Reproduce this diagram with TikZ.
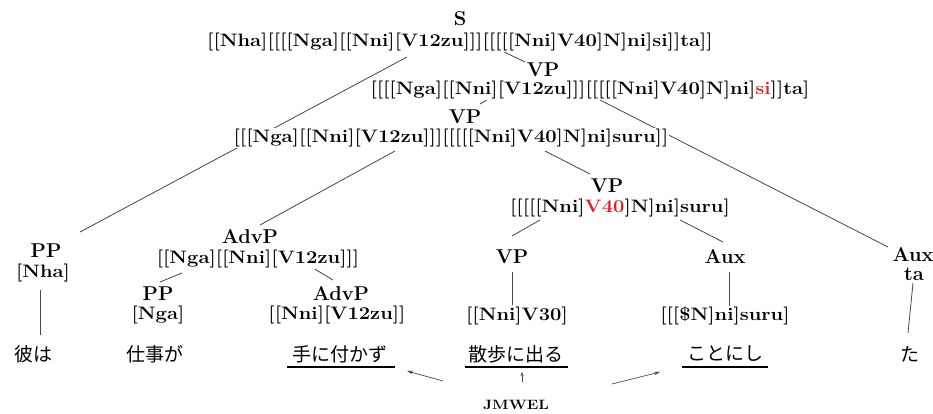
\documentclass[tikz,border=0pt]{standalone}
\usepackage{fontspec}
\usepackage{graphicx}
\newfontfamily\jpfont{Noto Sans CJK JP}
\usetikzlibrary{backgrounds,arrows.meta}
\definecolor{edgec}{RGB}{70,70,70}
\definecolor{hl}{RGB}{225,30,40}
\newcommand\brk[1]{\scalebox{1.12}[1]{\fontsize{18}{18}\selectfont\bfseries #1}}
\tikzset{
  lab/.style={font=\fontsize{20}{20}\selectfont\bfseries, inner sep=0.5pt},
  txt/.style={fill=white, inner sep=1pt},
  jtxt/.style={font=\jpfont\fontsize{19}{19}\selectfont, inner sep=1pt},
  edge/.style={draw=edgec, line width=0.8pt},
  uline/.style={line width=2.4pt},
  arr/.style={draw=edgec, line width=0.7pt, -{Stealth[length=6pt,width=3.5pt]}}
}
\begin{document}
\begin{tikzpicture}[x=1pt,y=-1pt]
\useasboundingbox (0,0) rectangle (933,414);
% labels and texts
\node[lab] (s) at (460,19) {S};
\node[txt] (st) at (460,42) {\brk{[[Nha][[[[Nga][[Nni][V12zu]]][[[[[Nni]V40]N]ni]si]]ta]]}};
\node[lab] (vp2) at (543,70) {VP};
\node[txt] (vp2t) at (590,90) {\brk{[[[[Nga][[Nni][V12zu]]][[[[[Nni]V40]N]ni]\textcolor{hl}{si}]]ta]}};
\node[lab] (vp3) at (465,117) {VP};
\node[txt] (vp3t) at (451,138) {\brk{[[[Nga][[Nni][V12zu]]][[[[[Nni]V40]N]ni]suru]]}};
\node[lab] (pp1) at (46,251) {PP};
\node[txt] (pp1t) at (43,273) {\brk{[Nha]}};
\node[lab] (advp1) at (250,237) {AdvP};
\node[txt] (advp1t) at (258,259) {\brk{[[Nga][[Nni][V12zu]]]}};
\node[lab] (vp4) at (607,186) {VP};
\node[txt] (vp4t) at (620,208) {\brk{[[[[[Nni]\textcolor{hl}{V40}]N]ni]suru]}};
\node[lab] (pp2) at (158,294) {PP};
\node[txt] (pp2t) at (158,315) {\brk{[Nga]}};
\node[lab] (advp2) at (341,294) {AdvP};
\node[txt] (advp2t) at (337,315) {\brk{[[Nni][V12zu]]}};
\node[lab] (vp5) at (512,257) {VP};
\node[txt] (vp5t) at (517,316) {\brk{[[Nni]V30]}};
\node[lab] (aux) at (725,257) {Aux};
\node[txt] (auxt) at (725,316) {\brk{[[[\$N]ni]suru]}};
\node[lab] (aux2) at (913,255) {Aux};
\node[lab] (aux2t) at (914,274) {ta};
\node[jtxt] (j1) at (33,354) {彼は};
\node[jtxt] (j2) at (155,354) {仕事が};
\node[jtxt] (j3) at (340,354) {手に付かず};
\node[jtxt] (j4) at (516,354) {散歩に出る};
\node[jtxt] (j5) at (725,354) {ことにし};
\node[jtxt] (j6) at (910,354) {た};
\node (jm) at (516,405) {\scalebox{1.15}[1]{\fontsize{13.5}{13.5}\selectfont\bfseries JMWEL}};
% underlines
\draw[uline] ([shift={(-53,13)}]j3.center) -- ([shift={(55,13)}]j3.center);
\draw[uline] ([shift={(-51,13)}]j4.center) -- ([shift={(52,13)}]j4.center);
\draw[uline] ([shift={(-43,13)}]j5.center) -- ([shift={(43,13)}]j5.center);
% arrows
\draw[arr] ([shift={(-73,-24)}]jm.center) -- ([shift={(67,17)}]j3.center);
\draw[arr] ([shift={(96,-21)}]jm.center) -- ([shift={(-65,18)}]j5.center);
\draw[arr, -{Stealth[length=4pt,width=3pt]}] ([shift={(6,-23)}]jm.center) -- ([shift={(6,18)}]j4.center);
\begin{pgfonlayer}{background}
\fill[white] (0,0) rectangle (933,414);
\draw[edge] ([shift={(-53,15)}]st.center) -- ([shift={(34,-19)}]pp1.center);
\draw[edge] ([shift={(40,8)}]st.center) -- ([shift={(-18,-8)}]vp2.center);
\draw[edge] ([shift={(-103,10)}]vp2t.center) -- ([shift={(15,-13)}]vp3.center);
\draw[edge] ([shift={(10,10)}]vp2t.center) -- ([shift={(-25,-8)}]aux2.center);
\draw[edge] ([shift={(-56,13)}]vp3t.center) -- ([shift={(10,-12)}]advp1.center);
\draw[edge] ([shift={(94,13)}]vp3t.center) -- ([shift={(-17,-12)}]vp4.center);
\draw[edge] ([shift={(-80,12)}]vp4t.center) -- ([shift={(0,-21)}]vp5.center);
\draw[edge] ([shift={(60,12)}]vp4t.center) -- ([shift={(-2,-15)}]aux.center);
\draw[edge] ([shift={(-76,14)}]advp1t.center) -- ([shift={(2,-12)}]pp2.center);
\draw[edge] ([shift={(55,9)}]advp1t.center) -- ([shift={(-8,-14)}]advp2.center);
\draw[edge] ([shift={(-3,17)}]pp1t.center) -- ([shift={(7,-19)}]j1.center);
\draw[edge] ([shift={(0,15)}]vp5.center) -- ([shift={(-5,-11)}]vp5t.center);
\draw[edge] ([shift={(4,15)}]aux.center) -- ([shift={(4,-10)}]auxt.center);
\draw[edge] ([shift={(-1,9)}]aux2t.center) -- ([shift={(-2,-21)}]j6.center);
\end{pgfonlayer}
\end{tikzpicture}
\end{document}
